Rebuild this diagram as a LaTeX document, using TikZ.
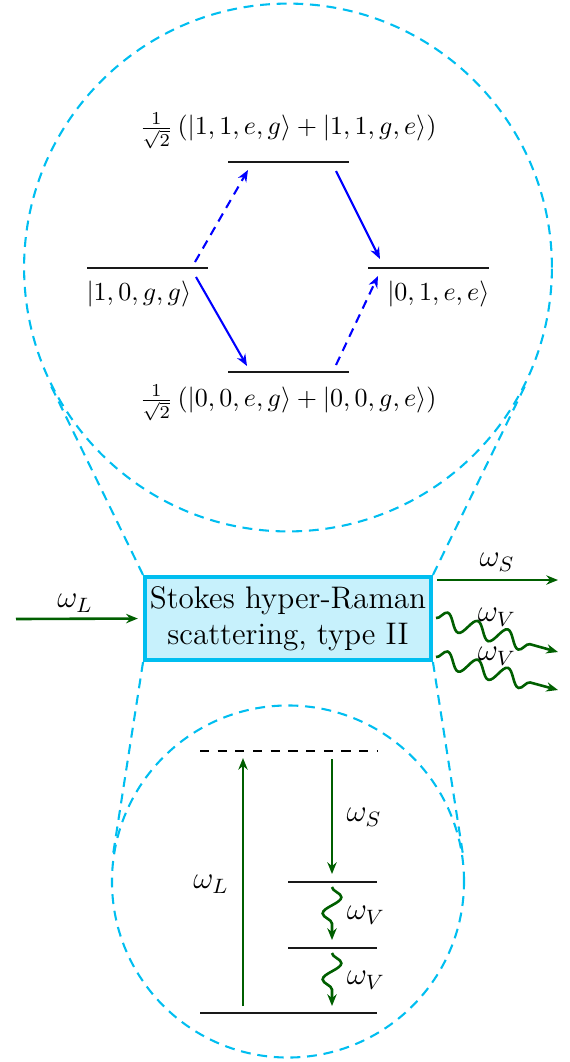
\documentclass[tikz,border=0pt]{standalone}
\usetikzlibrary{arrows.meta,decorations.pathmorphing,calc}
\definecolor{cz}{RGB}{0,190,240}
\definecolor{gz}{RGB}{0,95,0}
\begin{document}
\begin{tikzpicture}[x=0.3846pt,y=-0.3846pt,
  level/.style={line width=1.1pt,black!90},
  mag/.style={draw=cz, dash pattern=on 3.8pt off 2.6pt, line width=0.8pt},
  bl/.style={blue, line width=0.8pt, -{Stealth[length=4.5pt,width=3.6pt]}},
  bld/.style={bl, dash pattern=on 3.5pt off 2.5pt},
  ga/.style={gz, line width=1pt, -{Stealth[length=4.5pt,width=3.6pt]}},
  wavy/.style={ga, decorate, decoration={snake, amplitude=3.2pt, segment length=12pt, post length=2mm}},
  vwavy/.style={ga, decorate, decoration={snake, amplitude=3.6pt, segment length=12.5pt, post length=3pt}},
  lab/.style={inner sep=1pt},
  wlab/.style={inner sep=1pt, text=black, font=\large}
]
\useasboundingbox (0,0) rectangle (570,1062);
% magnifier circles
\node[mag, circle, minimum size=203pt, inner sep=0pt] (topc) at (288,267.5) {};
\node[mag, circle, minimum size=135.4pt, inner sep=0pt] (botc) at (288,881.5) {};
% central box
\node[draw=cz, line width=1.5pt, fill=cz!22, minimum width=110pt, minimum height=32pt,
      align=center, font=\large, inner sep=1pt] (box) at (288,618.5)
      {Stokes hyper-Raman\\scattering, type II};
% tangent lines
\draw[mag] (box.north west) -- (tangent cs:node=topc,point={(box.north west)},solution=2);
\draw[mag] (box.north east) -- (tangent cs:node=topc,point={(box.north east)},solution=1);
\draw[mag] (box.south west) -- (tangent cs:node=botc,point={(box.south west)},solution=1);
\draw[mag] (box.south east) -- (tangent cs:node=botc,point={(box.south east)},solution=2);

% ---- upper level scheme
\coordinate (Ua) at (228,162); \coordinate (Ub) at (349,162);
\coordinate (La) at (87,268);  \coordinate (Lb) at (208,268);
\coordinate (Ra) at (368,268); \coordinate (Rb) at (489,268);
\coordinate (Da) at (228,372); \coordinate (Db) at (349,372);
\draw[level] (Ua) -- (Ub);
\draw[level] (La) -- (Lb);
\draw[level] (Ra) -- (Rb);
\draw[level] (Da) -- (Db);
\node[lab] (lu) at (288,131) {$\frac{1}{\sqrt{2}}\left(|1,1,e,g\rangle+|1,1,g,e\rangle\right)$};
\node[lab] (ld) at (288,403) {$\frac{1}{\sqrt{2}}\left(|0,0,e,g\rangle+|0,0,g,e\rangle\right)$};
\node[anchor=west, inner sep=0pt] (ll) at (86,294) {$|1,0,g,g\rangle$};
\node[anchor=east, inner sep=0pt] (lr) at (490,294) {$|0,1,e,e\rangle$};
\coordinate (a1s) at (195,262); \coordinate (a1e) at (248,170);
\coordinate (a2s) at (336,171); \coordinate (a2e) at (380,259);
\coordinate (a3s) at (196,277); \coordinate (a3e) at (247,366);
\coordinate (a4s) at (336,365); \coordinate (a4e) at (378,276);
\draw[bld] (a1s) -- (a1e);
\draw[bl] (a2s) -- (a2e);
\draw[bl] (a3s) -- (a3e);
\draw[bld] (a4s) -- (a4e);

% ---- inputs / outputs of box
\coordinate (inL) at (16,619);
\draw[ga, shorten >=2pt] (inL) -- (box.west);
\node[wlab] (wL) at (75,603) {$\omega_L$};
\coordinate (oS1) at (437,580); \coordinate (oS2) at (558,580);
\draw[ga] (oS1) -- (oS2);
\node[wlab] (wS) at (497,562) {$\omega_S$};
\coordinate (oV1) at (436,618); \coordinate (oV2) at (558,652);
\coordinate (oV3) at (436,657); \coordinate (oV4) at (558,690);
\draw[wavy] (oV1) -- (oV2);
\draw[wavy] (oV3) -- (oV4);
\node[wlab] (wV1) at (497,617) {$\omega_V$};
\node[wlab] (wV2) at (497,656) {$\omega_V$};

% ---- lower level scheme
\coordinate (Va) at (200,751); \coordinate (Vb) at (377,751);
\coordinate (Ga) at (200,1013); \coordinate (Gb) at (377,1013);
\coordinate (Aa) at (288,882); \coordinate (Ab) at (377,882);
\coordinate (Ba) at (288,948); \coordinate (Bb) at (377,948);
\draw[line width=0.9pt, dash pattern=on 3.5pt off 3.3pt] (Va) -- (Vb);
\draw[level] (Ga) -- (Gb);
\draw[level] (Aa) -- (Ab);
\draw[level] (Ba) -- (Bb);
\coordinate (wLs) at (243,1006); \coordinate (wLe) at (243,758);
\draw[ga] (wLs) -- (wLe);
\coordinate (wSs) at (332,759); \coordinate (wSe) at (332,874);
\draw[ga] (wSs) -- (wSe);
\coordinate (v1s) at (332,887); \coordinate (v1e) at (332,940);
\coordinate (v2s) at (332,953); \coordinate (v2e) at (332,1006);
\draw[vwavy] (v1s) -- (v1e);
\draw[vwavy] (v2s) -- (v2e);
\node[wlab] (tL) at (211,884) {$\omega_L$};
\node[wlab] (tS) at (364,817) {$\omega_S$};
\node[wlab] (tV1) at (366,915) {$\omega_V$};
\node[wlab] (tV2) at (366,980) {$\omega_V$};
\end{tikzpicture}
\end{document}
